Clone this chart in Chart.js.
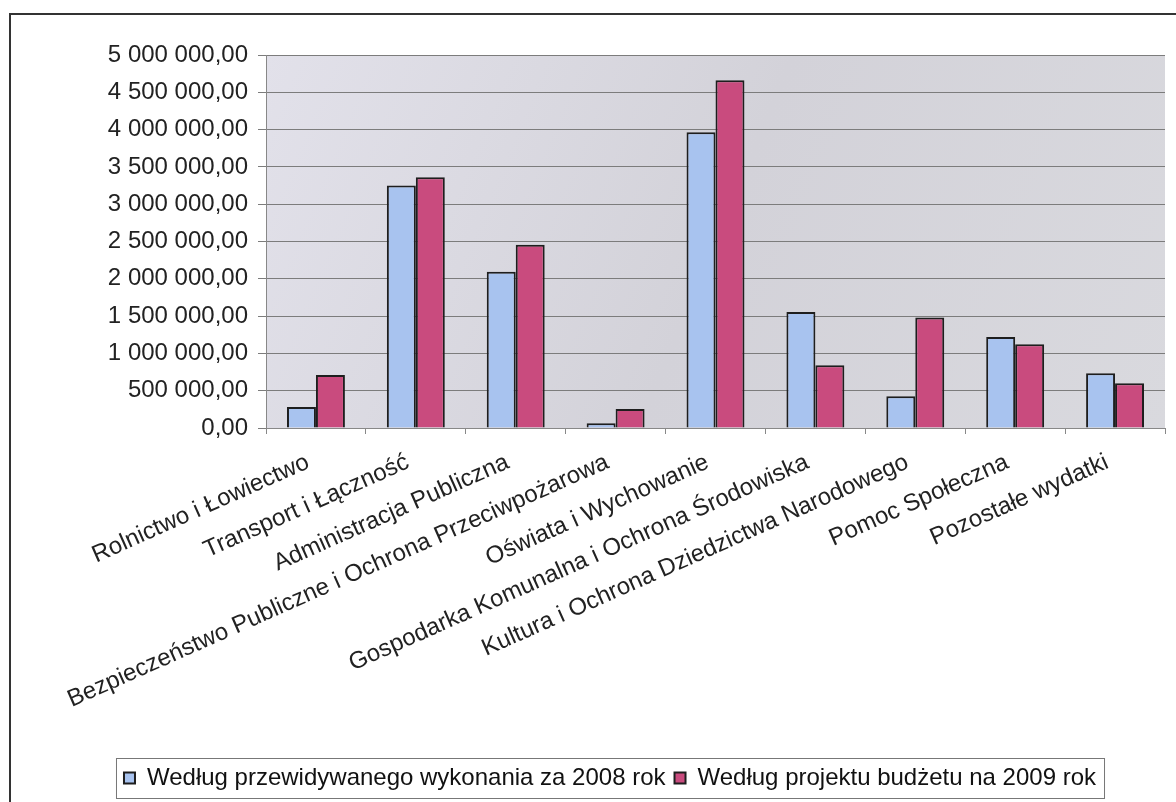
<!DOCTYPE html>
<html>
<head>
<meta charset="utf-8">
<script src="https://cdn.jsdelivr.net/npm/chart.js@4"></script>
<style>
  html, body { margin: 0; padding: 0; background: #fff; }
  #frame { position: absolute; left: 9px; top: 13px; width: 1200px; height: 820px; border: 2px solid #333; }
  #wrap { position: absolute; left: 0; top: 0; width: 1176px; height: 802px; }
</style>
</head>
<body>
<div id="frame"></div>
<div id="wrap"><canvas id="budgetChart" width="1176" height="802"></canvas></div>
<script>
const categories = [
  "Rolnictwo i Łowiectwo",
  "Transport i Łączność",
  "Administracja Publiczna",
  "Bezpieczeństwo Publiczne i Ochrona Przeciwpożarowa",
  "Oświata i Wychowanie",
  "Gospodarka Komunalna i Ochrona Środowiska",
  "Kultura i Ochrona Dziedzictwa Narodowego",
  "Pomoc Społeczna",
  "Pozostałe wydatki"
];
const values2008 = [280000, 3250000, 2095000, 65000, 3965000, 1555000, 425000, 1220000, 735000];
const values2009 = [712000, 3360000, 2455000, 255000, 4660000, 842000, 1480000, 1122000, 600000];
const seriesNames = [
  "Według przewidywanego wykonania za 2008 rok",
  "Według projektu budżetu na 2009 rok"
];

function fmt(v) {
  return v.toFixed(2).replace('.', ',').replace(/\B(?=(\d{3})+(?!\d))/g, ' ');
}

const FONT = '"Liberation Sans", Arial, sans-serif';

// gray gradient behind the bars
const plotBg = {
  id: 'plotBg',
  beforeDraw(chart) {
    const { ctx, chartArea: a } = chart;
    const g = ctx.createLinearGradient(a.left, a.top, a.right, a.bottom);
    g.addColorStop(0, '#e2e1ea');
    g.addColorStop(0.5, '#d3d2d9');
    g.addColorStop(1, '#d9d9de');
    ctx.save();
    ctx.fillStyle = g;
    ctx.fillRect(a.left, a.top, a.right - a.left, a.bottom - a.top);
    ctx.restore();
  }
};

// box around the legend
const legendBox = {
  id: 'legendBox',
  afterDraw(chart) {
    const hb = chart.legend.legendHitBoxes;
    if (!hb || !hb.length) return;
    const left = Math.min(...hb.map(h => h.left)) - 8;
    const right = Math.max(...hb.map(h => h.left + h.width)) + 8;
    const top = Math.min(...hb.map(h => h.top)) - 8;
    const bottom = Math.max(...hb.map(h => h.top + h.height)) + 8;
    const ctx = chart.ctx;
    ctx.save();
    ctx.strokeStyle = '#777';
    ctx.lineWidth = 1;
    ctx.strokeRect(left + 0.5, top + 0.5, right - left, bottom - top);
    ctx.restore();
  }
};

new Chart(document.getElementById('budgetChart'), {
  type: 'bar',
  data: {
    labels: categories,
    datasets: [
      {
        label: seriesNames[0],
        data: values2008,
        backgroundColor: '#a8c3ef',
        borderColor: '#1e1e1e',
        borderWidth: 2
      },
      {
        label: seriesNames[1],
        data: values2009,
        backgroundColor: '#c94b7e',
        borderColor: '#1e1e1e',
        borderWidth: 2
      }
    ]
  },
  options: {
    responsive: false,
    animation: false,
    layout: { padding: { top: 55, right: 11, left: 55, bottom: 2 } },
    datasets: { bar: { categoryPercentage: 0.58, barPercentage: 1.0 } },
    scales: {
      x: {
        grid: { drawOnChartArea: false, drawTicks: true, tickLength: 6, color: '#888' },
        border: { color: '#888' },
        ticks: {
          autoSkip: false,
          maxRotation: 24,
          minRotation: 24,
          color: '#222',
          padding: 14,
          labelOffset: -8,
          font: { family: FONT, size: 24 }
        },
        afterFit(s) { s.height = 329; }
      },
      y: {
        min: 0,
        max: 5000000,
        grid: { color: '#7c7c7c', tickLength: 8 },
        border: { color: '#888' },
        ticks: {
          stepSize: 500000,
          color: '#222',
          padding: 10,
          font: { family: FONT, size: 24 },
          callback: v => fmt(v)
        },
        afterFit(s) { s.width = 211; }
      }
    },
    plugins: {
      legend: {
        position: 'bottom',
        labels: {
          color: '#111',
          boxWidth: 11,
          boxHeight: 11,
          padding: 9,
          font: { family: FONT, size: 24 }
        }
      },
      tooltip: { enabled: false }
    }
  },
  plugins: [plotBg, legendBox]
});
</script>
</body>
</html>
